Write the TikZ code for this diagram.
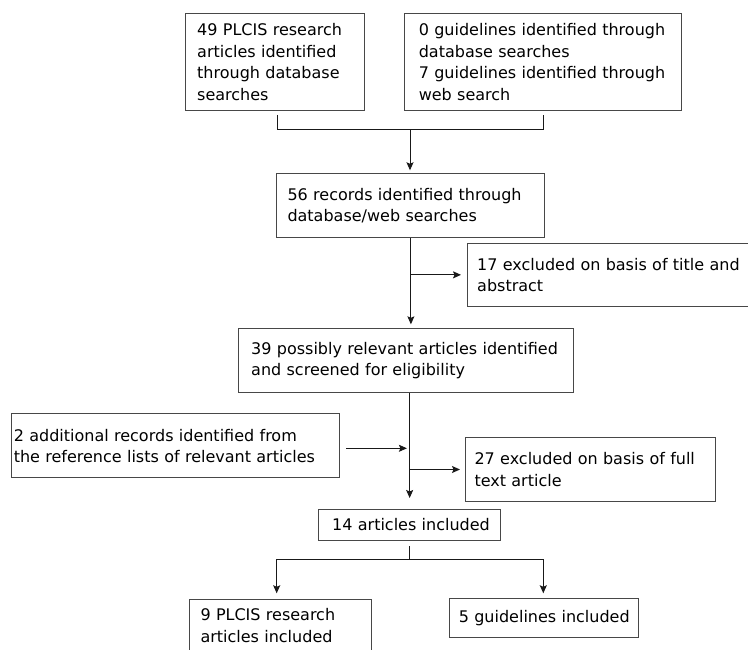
\documentclass[tikz,border=0pt]{standalone}
\usepackage{fontspec}
\setmainfont{DejaVu Sans}
\usetikzlibrary{arrows.meta,calc}
\begin{document}
\begin{tikzpicture}[x=1pt,y=-1pt,
  box/.style={draw=black!72,line width=1pt,anchor=north west,align=left,
    inner ysep=0pt,text=black,font=\fontsize{16}{21.5}\selectfont},
  conn/.style={draw=black!90,line width=1pt},
  arr/.style={conn,-{Stealth[length=8pt,width=7pt,inset=1.5pt]}}]
\clip (0,0) rectangle (748,650);
\fill[white] (0,0) rectangle (748,650);

\node[box,inner xsep=11.7pt,text width=155.6pt,minimum height=97.3pt] (b1) at (185,12.7)
  {\mbox{49 PLCIS research}\\\mbox{articles identified}\\\mbox{through database}\\\mbox{searches}};
\node[box,inner xsep=14pt,text width=248.7pt,minimum height=97.3pt] (b2) at (404.3,12.7)
  {\mbox{0 guidelines identified through}\\\mbox{database searches}\\\mbox{7 guidelines identified through}\\\mbox{web search}};
\node[box,inner xsep=10.6pt,text width=246.8pt,minimum height=63.3pt] (b3) at (276.4,173.3)
  {\mbox{56 records identified through}\\\mbox{database/web searches}};
\node[box,inner xsep=9.7pt,text width=280.6pt,minimum height=63.3pt] (b17) at (467,242.7)
  {\mbox{17 excluded on basis of title and}\\\mbox{abstract}};
\node[box,inner xsep=12.4pt,text width=310.2pt,minimum height=63.4pt] (b39) at (238.3,328.3)
  {\mbox{39 possibly relevant articles identified}\\\mbox{and screened for eligibility}};
\node[box,inner xsep=2.6pt,text width=322.6pt,minimum height=64pt] (b2a) at (10.7,413.3)
  {\mbox{2 additional records identified from}\\\mbox{the reference lists of relevant articles}};
\node[box,inner xsep=9.3pt,text width=231.7pt,minimum height=63.4pt] (b27) at (464.7,437.3)
  {\mbox{27 excluded on basis of full}\\\mbox{text article}};
\node[box,inner xsep=13.4pt,text width=154.9pt,minimum height=31.5pt] (b14) at (318.3,508.5)
  {\mbox{14 articles included}};
\node[box,inner xsep=10.7pt,text width=160pt,minimum height=53pt] (b9) at (189.3,598.7)
  {\mbox{9 PLCIS research}\\\mbox{articles included}};
\node[box,inner xsep=9pt,text width=171pt,minimum height=38.4pt] (b5) at (449.3,598.3)
  {\mbox{5 guidelines included}};

% top bracket
\coordinate (j1) at (410,129.5);
\draw[conn] ($(b1.south)+(2.2,4)$) |- (j1) -| ($(b2.south)+(0,4)$);
\draw[arr,shorten >=3pt] (j1) -- (j1 |- b3.north);

% b3 -> b39 and exclusion
\draw[arr,shorten >=4pt] (b3.south) -- (b3.south |- b39.north);
\draw[arr,shorten >=6pt] (b3.south |- b17.west) -- (b17.west);

% b39 -> b14 with side arrows
\coordinate (m1) at (409.2,448.3);
\draw[arr,shorten >=10.5pt] (b14.north |- b39.south) -- (b14.north);
\draw[arr,shorten <=6.5pt,shorten >=2.3pt] (b2a.east |- m1) -- (m1);
\draw[arr,shorten >=4.7pt] (b14.north |- b27.west) -- (b27.west);

% split
\coordinate (sl) at (276.7,559.3);
\coordinate (sr) at (543.3,559.3);
\draw[conn] ($(b14.south)+(0,5)$) -- (b14.south |- sl);
\draw[conn] (sl) -- (sr);
\draw[arr,shorten >=5.4pt] (sl) -- (sl |- b9.north);
\draw[arr,shorten >=5pt] (sr) -- (sr |- b5.north);
\end{tikzpicture}
\end{document}
